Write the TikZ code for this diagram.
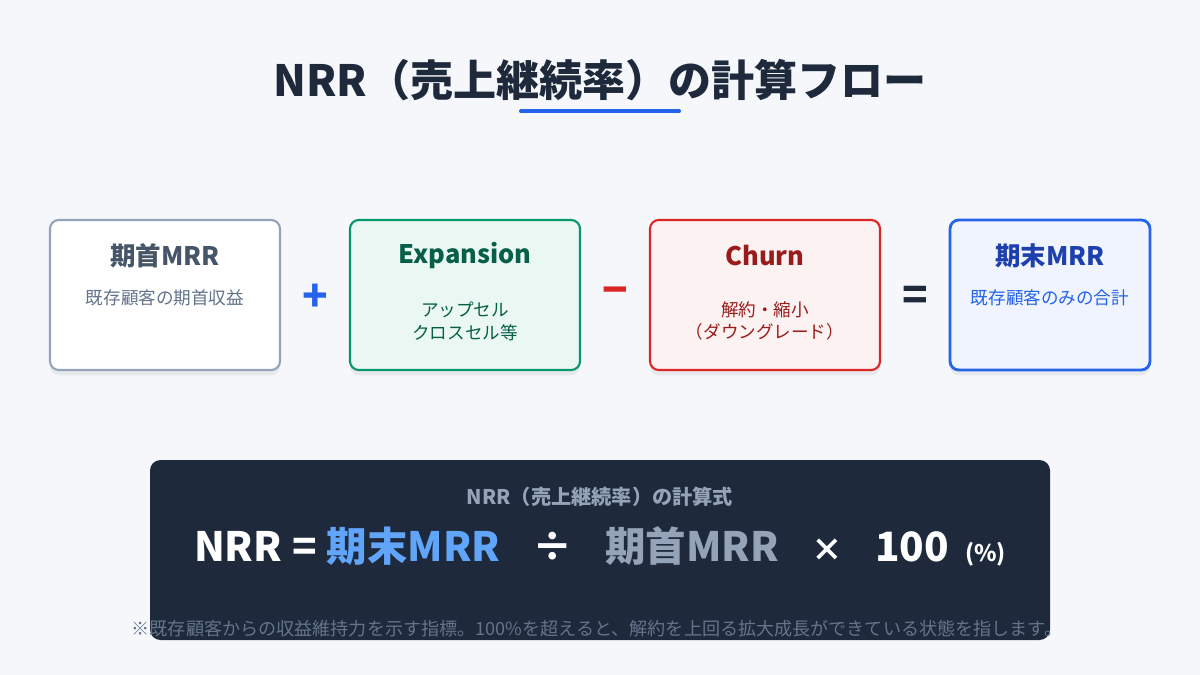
\documentclass[tikz,border=0pt]{standalone}
\usepackage{fontspec}
\setmainfont{Noto Sans CJK JP}
\usetikzlibrary{shadows}
\definecolor{bg}{HTML}{F5F7FA}
\definecolor{dark}{HTML}{1E293B}
\definecolor{slate}{HTML}{94A3B8}
\definecolor{slate6}{HTML}{475569}
\definecolor{slate5}{HTML}{64748B}
\definecolor{blue6}{HTML}{2563EB}
\definecolor{blue8}{HTML}{1E40AF}
\definecolor{blue4}{HTML}{60A5FA}
\definecolor{green6}{HTML}{059669}
\definecolor{green8}{HTML}{065F46}
\definecolor{red6}{HTML}{DC2626}
\definecolor{red8}{HTML}{991B1B}
\begin{document}
\begin{tikzpicture}[x=0.02cm,y=-0.02cm,
 box/.style={draw,line width=1.2pt,rounded corners=5pt,minimum width=230*0.02cm,minimum height=150*0.02cm,drop shadow={opacity=0.12,shadow xshift=0pt,shadow yshift=-3pt}},
 ttl/.style={font=\bfseries\fontsize{14.5}{16}\selectfont},
 sub/.style={font=\fontsize{10}{13}\selectfont,align=center},
 op/.style={font=\bfseries\fontsize{24}{24}\selectfont}]
\useasboundingbox (0,0) rectangle (1200,675);
\fill[bg] (0,0) rectangle (1200,675);
\node[font=\bfseries\fontsize{24.5}{28}\selectfont,text=dark] (title) at (600,80) {NRR（売上継続率）の計算フロー};
\draw[blue6,line width=2.3pt,line cap=round] (521,111) coordinate (u1) -- (679,111) coordinate (u2);
% boxes
\node[box,draw=slate,fill=white] (b1) at (165,295) {};
\node[ttl,text=slate6] (t1) at (165,256) {期首MRR};
\node[sub,text=slate5] (s1) at (165,298) {既存顧客の期首収益};
\node[op,text=blue6] (p) at (315,298) {+};
\node[box,draw=green6,fill=green6!8] (b2) at (465,295) {};
\node[ttl,text=green8] (t2) at (465,256) {Expansion};
\node[sub,text=green8] (s2) at (465,321) {アップセル\\クロスセル等};
\node[op,text=red6] (m) at (615,296) {−};
\node[box,draw=red6,fill=red6!6] (b3) at (765,295) {};
\node[ttl,text=red8] (t3) at (765,256) {Churn};
\node[sub,text=red8] (s3) at (765,321) {解約・縮小\\（ダウングレード）};
\node[op,text=dark] (eq) at (915,298) {=};
\node[box,draw=blue6,fill=blue6!7,line width=1.6pt,minimum width=200*0.02cm] (b4) at (1050,295) {};
\node[ttl,text=blue8] (t4) at (1050,256) {期末MRR};
\node[sub,text=blue6] (s4) at (1050,298) {既存顧客のみの合計};
% formula
\fill[dark,rounded corners=6pt] (150,460) rectangle (1050,640);
\node[font=\bfseries\fontsize{11.5}{13}\selectfont,text=slate] (ft) at (600,497) {NRR（売上継続率）の計算式};
\node[font=\bfseries\fontsize{23}{26}\selectfont,text=white] (f) at (600,546) {NRR\hspace{0.25em}=\hspace{0.25em}\textcolor{blue4}{期末MRR}\hspace{0.8em}÷\hspace{0.8em}\textcolor{slate}{期首MRR}\hspace{0.8em}{\fontsize{18}{20}\selectfont ×}\hspace{0.8em}100\hspace{0.4em}{\fontsize{13}{14}\selectfont (\%)}};
\node[font=\fontsize{10.3}{12}\selectfont,text=slate5] (fn) at (597,629) {※既存顧客からの収益維持力を示す指標。100\%を超えると、解約を上回る拡大成長ができている状態を指します。};
\end{tikzpicture}
\end{document}
